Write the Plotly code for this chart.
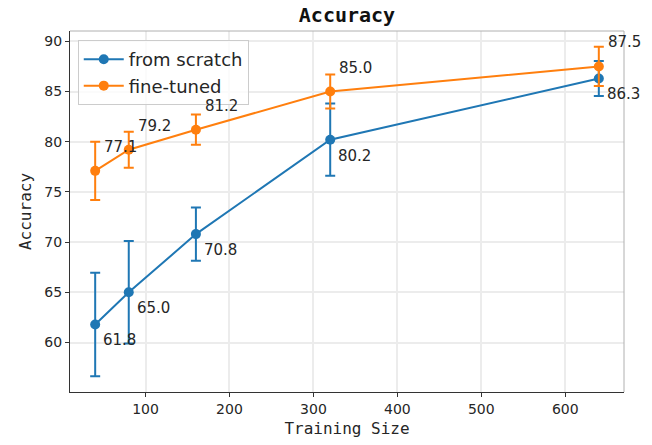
import plotly.graph_objects as go

train_size = [40, 80, 160, 320, 640]
scratch_acc = [61.8, 65.0, 70.8, 80.2, 86.3]
scratch_err = [5.15, 5.1, 2.65, 3.6, 1.75]
finetuned_acc = [77.1, 79.2, 81.2, 85.0, 87.5]
finetuned_err = [2.9, 1.8, 1.5, 1.7, 1.95]
x_ticks = [100, 200, 300, 400, 500, 600]
y_ticks = [60, 65, 70, 75, 80, 85, 90]

BLUE = "#1f77b4"
ORANGE = "#ff7f0e"
TXT = "#262626"

fig = go.Figure()
for name, ys, es, col in [("from scratch", scratch_acc, scratch_err, BLUE),
                          ("fine-tuned", finetuned_acc, finetuned_err, ORANGE)]:
    fig.add_trace(go.Scatter(
        x=train_size, y=ys, name=name, mode="lines+markers",
        line=dict(color=col, width=2),
        marker=dict(color=col, size=10),
        error_y=dict(type="data", array=es, visible=True, color=col,
                     thickness=2, width=5),
    ))

annotations = []
for xv, yv in zip(train_size, scratch_acc):
    annotations.append(dict(x=xv, y=yv, text=f"{yv:.1f}", showarrow=False,
                            xanchor="left", yanchor="middle", xshift=6, yshift=-16,
                            font=dict(family="DejaVu Sans", size=15, color=TXT)))
for xv, yv in zip(train_size, finetuned_acc):
    annotations.append(dict(x=xv, y=yv, text=f"{yv:.1f}", showarrow=False,
                            xanchor="left", yanchor="middle", xshift=7, yshift=24,
                            font=dict(family="DejaVu Sans", size=15, color=TXT)))

fig.update_layout(
    width=652, height=445,
    margin=dict(l=70, r=28, t=31, b=53),
    paper_bgcolor="white", plot_bgcolor="white",
    title=dict(text="<b>Accuracy</b>", x=347 / 652, xanchor="center",
               y=1 - 15 / 445, yanchor="middle",
               font=dict(family="DejaVu Sans Mono", size=20, color="#111111")),
    showlegend=True,
    legend=dict(x=0.014, y=0.975, xanchor="left", yanchor="top",
                bgcolor="rgba(255,255,255,0.8)", bordercolor="#cccccc", borderwidth=1,
                font=dict(family="DejaVu Sans", size=18, color=TXT),
                tracegroupgap=0, itemwidth=40),
    annotations=annotations,
)
fig.update_xaxes(
    range=[10, 670], tickvals=x_ticks, ticks="outside", ticklen=4, tickwidth=1,
    tickcolor="#333333", showline=True, linecolor="#333333", linewidth=1.2,
    mirror=False, showgrid=True, gridcolor="#ececec", gridwidth=2, zeroline=False,
    tickfont=dict(family="DejaVu Sans", size=14, color=TXT),
    title=dict(text="Training Size", standoff=6,
               font=dict(family="DejaVu Sans Mono", size=16, color=TXT)),
)
fig.update_yaxes(
    range=[55.07, 91.03], tickvals=y_ticks, ticks="outside", ticklen=4, tickwidth=1,
    tickcolor="#333333", showline=True, linecolor="#333333", linewidth=1.2,
    showgrid=True, gridcolor="#ececec", gridwidth=2, zeroline=False,
    tickfont=dict(family="DejaVu Sans", size=14, color=TXT),
    title=dict(text="Accuracy", standoff=8,
               font=dict(family="DejaVu Sans Mono", size=16, color=TXT)),
)
# light top/right spines
fig.add_shape(type="line", xref="paper", yref="paper", x0=0, x1=1, y0=1, y1=1,
              line=dict(color="#b0b0b0", width=1))
fig.add_shape(type="line", xref="paper", yref="paper", x0=1, x1=1, y0=0, y1=1,
              line=dict(color="#b0b0b0", width=1))

fig.write_html("out.html")
